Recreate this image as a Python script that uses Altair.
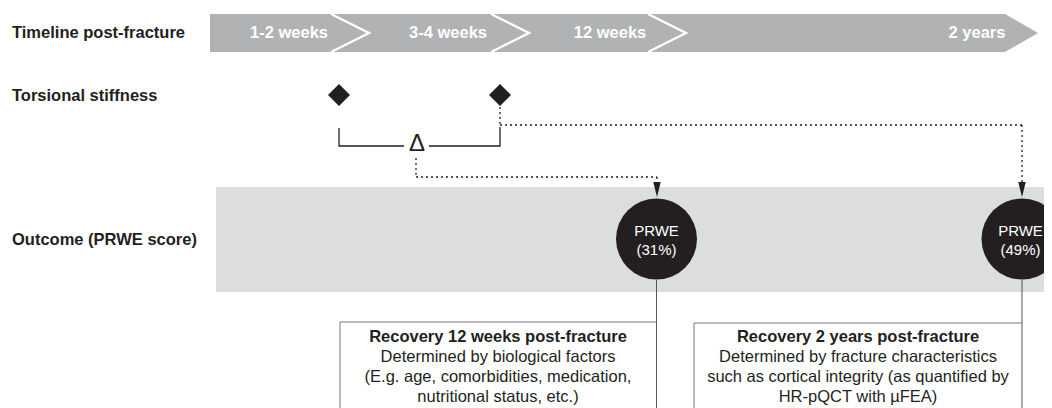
import altair as alt
import pandas as pd

# ---------------- content ----------------
row_labels = ["Timeline post-fracture", "Torsional stiffness", "Outcome (PRWE score)"]
timeline_labels = ["1-2 weeks", "3-4 weeks", "12 weeks", "2 years"]
stiffness_times = ["1-2 weeks", "3-4 weeks"]
prwe_names = ["PRWE", "PRWE"]
prwe_values = ["(31%)", "(49%)"]
box_titles = ["Recovery 12 weeks post-fracture", "Recovery 2 years post-fracture"]
box1_lines = ["Determined by biological factors",
              "(E.g. age, comorbidities, medication,",
              "nutritional status, etc.)"]
box2_lines = ["Determined by fracture characteristics",
              "such as cortical integrity (as quantified by",
              "HR-pQCT with \u00b5FEA)"]
delta_symbol = "\u0394"

# ---------------- layout (page pixel coordinates) ----------------
W, H = 1036, 400
FONT = "Liberation Sans"
INK = "#231f20"

row_label_y = [33, 96, 240]
bar_top, bar_bot, bar_mid = 14, 52, 33
bar_x0, bar_x1, bar_tip = 210, 1005, 1038
chevron_top_x = [331, 491, 648]
chevron_depth = 38
timeline_label_x = [289, 448, 610, 977]
diamond_x = [339, 500]
diamond_y = 95
circle_x = [656.5, 1022]
circle_y = 239
circle_d = 81
prwe_text_x = [656.5, 1020.5]
band = dict(x=216, x2=1052, y=187, y2=292)
box_x = [(340, 656.5), (694, 1022)]
box_top = [322, 323]
box_center = [498, 858]
box_line_y = [337, 357, 377, 397]
BOTTOM = 8 + H

xs = alt.Scale(domain=[8, 8 + W], nice=False, zero=False)
ys = alt.Scale(domain=[8, 8 + H], nice=False, zero=False, reverse=True)


def X(f="x"):
    return alt.X(f"{f}:Q", scale=xs, axis=None)


def Y(f="y"):
    return alt.Y(f"{f}:Q", scale=ys, axis=None)


def rules(segs, **kw):
    df = pd.DataFrame(segs, columns=["x", "y", "x2", "y2"])
    return alt.Chart(df).mark_rule(**kw).encode(
        x=X(), y=Y(), x2="x2:Q", y2="y2:Q")


# background band
band_layer = alt.Chart(pd.DataFrame([band])).mark_rect(color="#dcdddf").encode(
    x=X(), x2="x2:Q", y=Y(), y2="y2:Q")

# timeline arrow body
tl_df = pd.DataFrame({"x": [bar_x0, bar_x1, bar_tip],
                      "y": [bar_top, bar_top, bar_mid],
                      "y2": [bar_bot, bar_bot, bar_mid]})
tl_layer = alt.Chart(tl_df).mark_area(color="#b1b2b4", interpolate="linear").encode(
    x=X(), y=Y(), y2="y2:Q")

# white chevrons
chev_rows = []
for i, cx in enumerate(chevron_top_x):
    chev_rows += [dict(g=i, o=0, x=cx, y=bar_top),
                  dict(g=i, o=1, x=cx + chevron_depth, y=bar_mid),
                  dict(g=i, o=2, x=cx, y=bar_bot)]
chev_layer = alt.Chart(pd.DataFrame(chev_rows)).mark_line(
    color="white", strokeWidth=2.4, strokeJoin="miter").encode(
    x=X(), y=Y(), detail="g:N", order="o:Q")

tl_text = alt.Chart(pd.DataFrame({"x": timeline_label_x, "y": [bar_mid] * 4,
                                  "t": timeline_labels})).mark_text(
    font=FONT, fontSize=16.5, fontWeight="bold", color="white",
    baseline="middle", align="center").encode(x=X(), y=Y(), text="t:N")

row_text = alt.Chart(pd.DataFrame({"x": [12] * 3, "y": row_label_y,
                                   "t": row_labels})).mark_text(
    font=FONT, fontSize=16.5, fontWeight="bold", color=INK,
    baseline="middle", align="left").encode(x=X(), y=Y(), text="t:N")

# diamonds
dia_layer = alt.Chart(pd.DataFrame({"x": diamond_x, "y": [diamond_y] * 2,
                                    "t": stiffness_times})).mark_point(
    shape="diamond", filled=True, size=484, color=INK, opacity=1).encode(
    x=X(), y=Y())

# bracket
bracket = rules([(339, 128, 339, 146.5), (339, 146, 404, 146),
                 (429, 146, 500, 146), (500, 146.5, 500, 127)],
                color=INK, strokeWidth=1.3)
delta = alt.Chart(pd.DataFrame({"x": [417], "y": [144], "t": [delta_symbol]})).mark_text(
    font=FONT, fontSize=24, color=INK, baseline="middle", align="center").encode(
    x=X(), y=Y(), text="t:N")

# dotted connectors
dotted = rules([(500, 107, 500, 125), (500, 125, 1022, 125), (1022, 125, 1022, 184),
                (416, 158, 416, 177), (416, 177, 657, 177), (657, 177, 657, 184)],
               color=INK, strokeWidth=1.3, strokeDash=[2, 3])

# arrow heads
arrow_layer = alt.Chart(pd.DataFrame({"x": [657, 1022], "y": [189.5, 189.5]})).mark_point(
    shape="M-0.5,-1L0.5,-1L0,1Z", filled=True, size=225, color=INK, opacity=1).encode(
    x=X(), y=Y())

# stems and boxes
stems = rules([(circle_x[0], 280, circle_x[0], BOTTOM), (circle_x[1], 280, circle_x[1], BOTTOM)],
              color="#555555", strokeWidth=1)
boxes = rules([(box_x[0][0], box_top[0], box_x[0][1], box_top[0]),
               (box_x[0][0], box_top[0], box_x[0][0], BOTTOM),
               (box_x[1][0], box_top[1], box_x[1][1], box_top[1]),
               (box_x[1][0], box_top[1], box_x[1][0], BOTTOM)],
              color="#777777", strokeWidth=1)

# circles (Vega circle symbol: diameter = sqrt(size))
circ_layer = alt.Chart(pd.DataFrame({"x": circle_x, "y": [circle_y] * 2})).mark_point(
    shape="circle", filled=True, size=circle_d ** 2, color=INK,
    opacity=1).encode(x=X(), y=Y())

prwe_rows = []
for cx, n, v in zip(prwe_text_x, prwe_names, prwe_values):
    prwe_rows += [dict(x=cx, y=231, t=n), dict(x=cx, y=250, t=v)]
prwe_text = alt.Chart(pd.DataFrame(prwe_rows)).mark_text(
    font=FONT, fontSize=15, color="white", baseline="middle", align="center").encode(
    x=X(), y=Y(), text="t:N")

box_rows = []
for cx, title, lines in zip(box_center, box_titles, [box1_lines, box2_lines]):
    box_rows.append(dict(x=cx, y=box_line_y[0], t=title, w="bold"))
    for yy, ln in zip(box_line_y[1:], lines):
        box_rows.append(dict(x=cx, y=yy, t=ln, w="normal"))
box_df = pd.DataFrame(box_rows)
box_title_text = alt.Chart(box_df[box_df.w == "bold"]).mark_text(
    font=FONT, fontSize=16.5, fontWeight="bold", color=INK, baseline="middle",
    align="center").encode(x=X(), y=Y(), text="t:N")
box_body_text = alt.Chart(box_df[box_df.w == "normal"]).mark_text(
    font=FONT, fontSize=16.5, color=INK, baseline="middle",
    align="center").encode(x=X(), y=Y(), text="t:N")

chart = alt.layer(
    band_layer, tl_layer, chev_layer, tl_text, row_text,
    dia_layer, bracket, delta, dotted, arrow_layer,
    stems, boxes, circ_layer, prwe_text, box_title_text, box_body_text,
).properties(
    width=W, height=H, padding=0, autosize=alt.AutoSizeParams(type="none"),
    background="white"
).configure_view(stroke="transparent", strokeWidth=0)

chart.save("out.html", embed_options={"renderer": "svg", "actions": False})
